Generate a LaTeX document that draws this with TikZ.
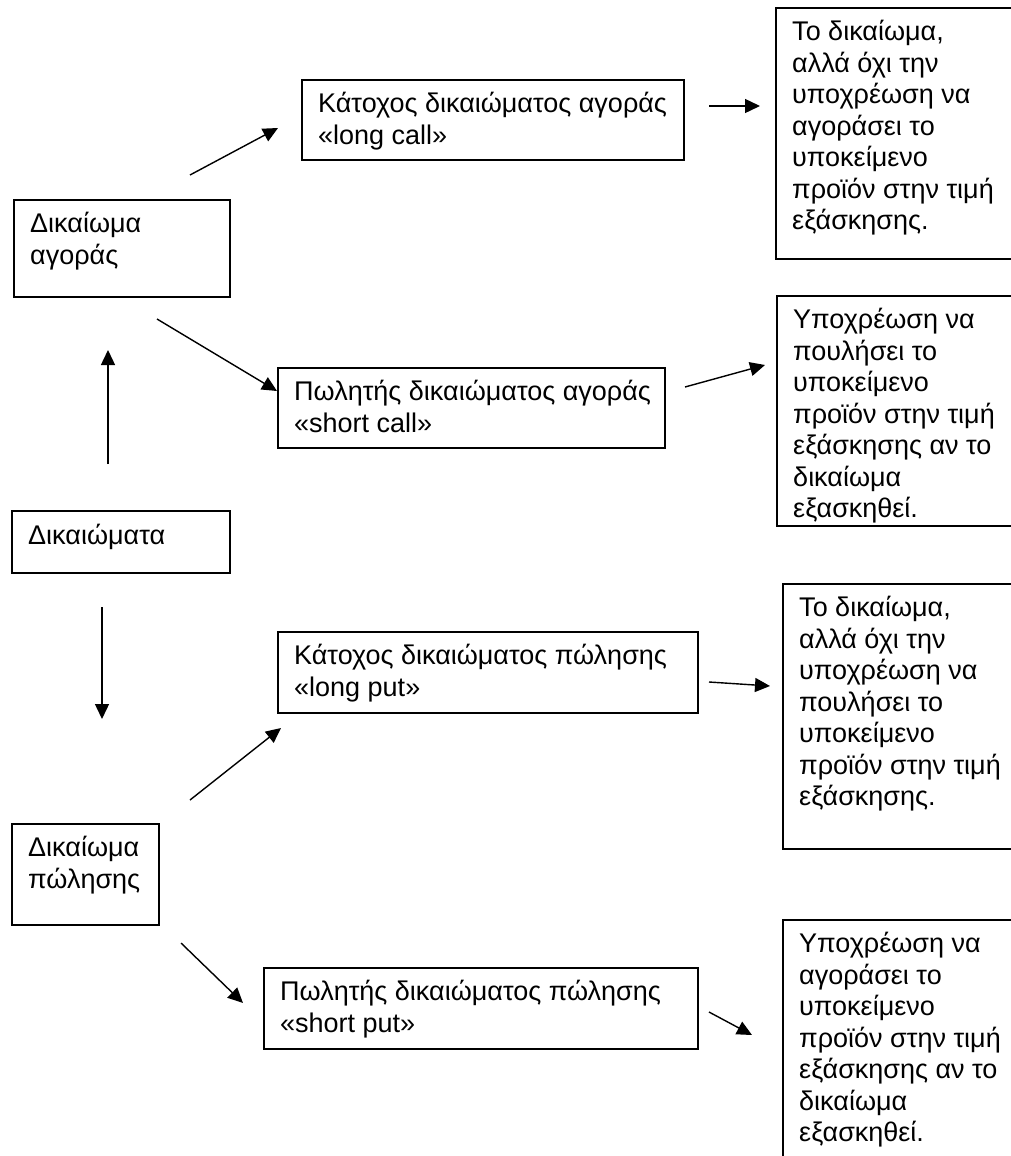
\documentclass[tikz,border=0pt]{standalone}
\usepackage{fontspec}
\setmainfont{Liberation Sans}
\usetikzlibrary{arrows.meta,calc}
\begin{document}
\begin{tikzpicture}[x=1pt,y=-1pt,
  frame/.style={draw, line width=1.6pt, anchor=north west, inner sep=0pt},
  txt/.style={anchor=north west, align=left, inner sep=0pt, font=\fontsize{27}{31.5}\selectfont},
  arr/.style={line width=1.4pt, -{Triangle[length=15pt,width=14pt]}}]
\useasboundingbox[fill=white] (0,0) rectangle (1011,1156);

% right-hand boxes (cut by the right edge)
\node[frame, minimum width=300, minimum height=251] (r1) at (775,7) {};
\node[txt] (r1t) at ([shift={(17,13)}]r1.north west) {Το δικαίωμα,\\αλλά όχι την\\υποχρέωση να\\αγοράσει το\\υποκείμενο\\προϊόν στην τιμή\\εξάσκησης.};
\node[frame, minimum width=300, minimum height=230] (r2) at (776,295) {};
\node[txt] (r2t) at ([shift={(17,13)}]r2.north west) {Υποχρέωση να\\πουλήσει το\\υποκείμενο\\προϊόν στην τιμή\\εξάσκησης αν το\\δικαίωμα\\εξασκηθεί.};
\node[frame, minimum width=300, minimum height=265] (r3) at (782,583) {};
\node[txt] (r3t) at ([shift={(17,13)}]r3.north west) {Το δικαίωμα,\\αλλά όχι την\\υποχρέωση να\\πουλήσει το\\υποκείμενο\\προϊόν στην τιμή\\εξάσκησης.};
\node[frame, minimum width=300, minimum height=300] (r4) at (782,919) {};
\node[txt] (r4t) at ([shift={(17,13)}]r4.north west) {Υποχρέωση να\\αγοράσει το\\υποκείμενο\\προϊόν στην τιμή\\εξάσκησης αν το\\δικαίωμα\\εξασκηθεί.};

% middle boxes
\node[frame, minimum width=382, minimum height=80] (b1) at (301,79) {};
\node[txt] (b1t) at ([shift={(17,13)}]b1.north west) {Κάτοχος δικαιώματος αγοράς\\«long call»};
\node[frame, minimum width=387, minimum height=80] (b2) at (277,367) {};
\node[txt] (b2t) at ([shift={(17,13)}]b2.north west) {Πωλητής δικαιώματος αγοράς\\«short call»};
\node[frame, minimum width=420, minimum height=81] (b3) at (277,631) {};
\node[txt] (b3t) at ([shift={(17,13)}]b3.north west) {Κάτοχος δικαιώματος πώλησης\\«long put»};
\node[frame, minimum width=434, minimum height=81] (b4) at (263,967) {};
\node[txt] (b4t) at ([shift={(17,13)}]b4.north west) {Πωλητής δικαιώματος πώλησης\\«short put»};

% left boxes
\node[frame, minimum width=216, minimum height=97] (a) at (13,199) {};
\node[txt] (at) at ([shift={(17,13)}]a.north west) {Δικαίωμα\\αγοράς};
\node[frame, minimum width=218, minimum height=62] (d) at (11,510) {};
\node[txt] (dt) at ([shift={(17,14)}]d.north west) {Δικαιώματα};
\node[frame, minimum width=147, minimum height=101] (p) at (11,823) {};
\node[txt] (pt) at ([shift={(17,13)}]p.north west) {Δικαίωμα\\πώλησης};

% arrow end points
\coordinate (a1s) at (190,175);  \coordinate (a1e) at (278,128);
\coordinate (a2s) at (709,106);  \coordinate (a2e) at (760,106);
\coordinate (a3s) at (157,319);  \coordinate (a3e) at (277,391);
\coordinate (a4s) at (108,464);  \coordinate (a4e) at (108,350);
\coordinate (a5s) at (685,387);  \coordinate (a5e) at (765,365);
\coordinate (a6s) at (102,607);  \coordinate (a6e) at (102,719);
\coordinate (a7s) at (190,800);  \coordinate (a7e) at (281,728);
\coordinate (a8s) at (709,682);  \coordinate (a8e) at (770,686);
\coordinate (a9s) at (181,943);  \coordinate (a9e) at (243,1003);
\coordinate (a10s) at (709,1012); \coordinate (a10e) at (752,1035);

\draw[arr] (a1s) -- (a1e);
\draw[arr] (a2s) -- (a2e);
\draw[arr] (a3s) -- (a3e);
\draw[arr] (a4s) -- (a4e);
\draw[arr] (a5s) -- (a5e);
\draw[arr] (a6s) -- (a6e);
\draw[arr] (a7s) -- (a7e);
\draw[arr] (a8s) -- (a8e);
\draw[arr] (a9s) -- (a9e);
\draw[arr] (a10s) -- (a10e);
\end{tikzpicture}
\end{document}
